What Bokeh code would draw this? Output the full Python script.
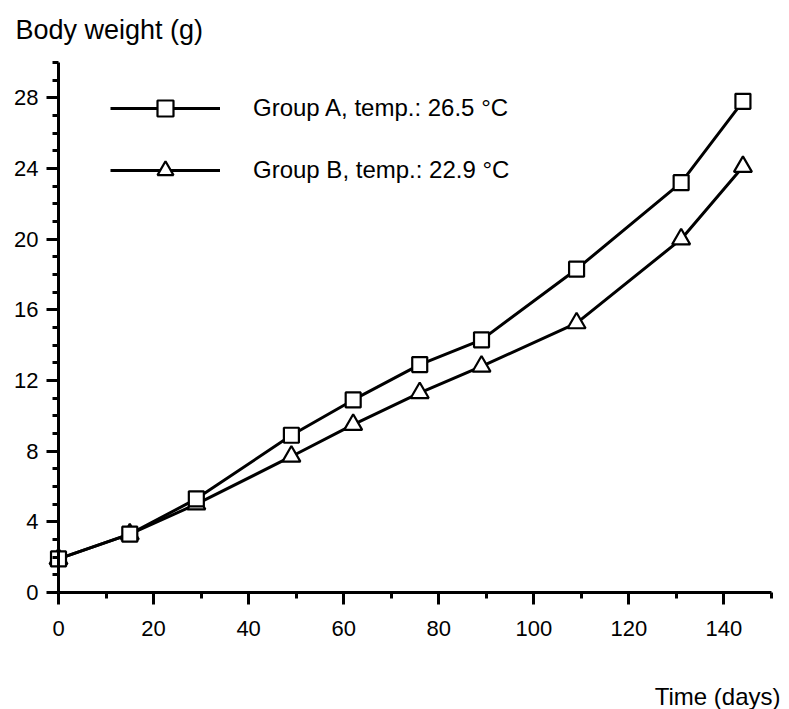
from bokeh.plotting import figure
from bokeh.models import FixedTicker, Legend, LegendItem, Label, Range1d
from bokeh.embed import file_html
from bokeh.resources import INLINE

# Data
days = [0, 15, 29, 49, 62, 76, 89, 109, 131, 144]
group_a = [1.9, 3.3, 5.3, 8.9, 10.9, 12.9, 14.3, 18.3, 23.2, 27.8]
group_b = [1.9, 3.3, 5.0, 7.7, 9.5, 11.3, 12.8, 15.25, 20.0, 24.1]
label_a = "Group A, temp.: 26.5 °C"
label_b = "Group B, temp.: 22.9 °C"
x_major = [0, 20, 40, 60, 80, 100, 120, 140]
x_minor = [10, 30, 50, 70, 90, 110, 130, 150]
y_major = [0, 4, 8, 12, 16, 20, 24, 28]
y_minor = [v for v in range(0, 31) if v % 4 != 0]

FONT = "Liberation Sans"
W, H = 789, 709
X0, XS = 58, 4.753     # pixel of x=0, pixels per day
Y0, YS = 592, 17.667   # pixel of y=0, pixels per gram

p = figure(width=W, height=H, output_backend="svg", toolbar_location=None,
           x_range=Range1d(-X0 / XS, (W - X0) / XS),
           y_range=Range1d(-(H - Y0) / YS, Y0 / YS),
           min_border_left=0, min_border_right=0, min_border_top=0, min_border_bottom=0)
p.outline_line_color = None
p.xgrid.grid_line_color = None
p.ygrid.grid_line_color = None
p.background_fill_color = "white"
p.border_fill_color = "white"

p.xaxis.ticker = FixedTicker(ticks=x_major, minor_ticks=x_minor)
p.yaxis.ticker = FixedTicker(ticks=y_major, minor_ticks=y_minor)
p.xaxis.fixed_location = 0
p.yaxis.fixed_location = 0
p.xaxis.bounds = (0, 150)
p.yaxis.bounds = (0, 30)
for ax in (p.xaxis, p.yaxis):
    ax.axis_line_width = 3
    ax.axis_line_color = "black"
    ax.major_tick_line_width = 3
    ax.minor_tick_line_width = 3
    ax.major_tick_line_color = "black"
    ax.minor_tick_line_color = "black"
    ax.major_tick_out = 12
    ax.major_tick_in = 0
    ax.minor_tick_out = 6
    ax.minor_tick_in = 0
    ax.major_label_text_font = FONT
    ax.major_label_text_font_size = "22px"
    ax.major_label_text_color = "black"
p.xaxis.major_label_standoff = 16
p.yaxis.major_label_standoff = 8

la = p.line(days, group_a, line_width=3, line_color="black")
lb = p.line(days, group_b, line_width=3, line_color="black")
mb = p.scatter(days, group_b, marker="triangle", size=18, fill_color="white",
               line_color="black", line_width=2.2)
ma = p.scatter(days, group_a, marker="square", size=15, fill_color="white",
               line_color="black", line_width=2.2)

legend = Legend(items=[LegendItem(label=label_a, renderers=[la, ma]),
                       LegendItem(label=label_b, renderers=[lb, mb])],
                location=(110, 515 + (H - 705)), padding=0, margin=0, spacing=22,
                glyph_width=110, glyph_height=40, label_height=24,
                label_standoff=33, border_line_alpha=0, background_fill_alpha=0,
                label_text_font=FONT, label_text_font_size="24px",
                label_text_color="black")
p.add_layout(legend, "center")

p.add_layout(Label(x=(15 - X0) / XS, y=(Y0 - 29) / YS, text="Body weight (g)",
                   text_font=FONT, text_font_size="27px", text_color="black",
                   text_align="left", text_baseline="alphabetic"))
p.add_layout(Label(x=(780 - X0) / XS, y=(Y0 - 696) / YS, text="Time (days)",
                   text_font=FONT, text_font_size="24px", text_color="black",
                   text_align="right", text_baseline="alphabetic"))

open("out.html", "w").write(file_html(p, INLINE))
